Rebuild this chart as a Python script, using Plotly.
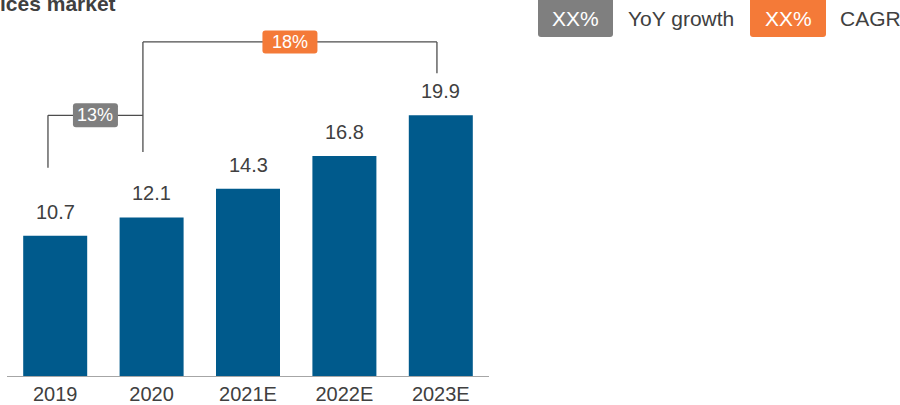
import plotly.graph_objects as go

# ---- data ----
categories = ["2019", "2020", "2021E", "2022E", "2023E"]
values = [10.7, 12.1, 14.3, 16.8, 19.9]
title_text = "ices market"
legend_labels = ["YoY growth", "CAGR"]
legend_box_text = "XX%"

# ---- style ----
BAR = "#005A8C"
GREY = "#7F7F7F"
ORANGE = "#F47A38"
TXT = "#404040"
LINE = "#4D4D4D"
FONT = "Arial, Liberation Sans, sans-serif"

W, H = 900, 405
L, R, T, B = 7, 411, 0, 29
PW = W - L - R
PH = H - T - B
Y_MAX = 28.7


def px_x(px):
    return (px - L) / PW


def px_y(py):
    return (H - B - py) / PH


def rrect(x0, y0, x1, y1, r, color):
    p = (f"M {px_x(x0 + r)},{px_y(y0)} L {px_x(x1 - r)},{px_y(y0)} "
         f"Q {px_x(x1)},{px_y(y0)} {px_x(x1)},{px_y(y0 + r)} "
         f"L {px_x(x1)},{px_y(y1 - r)} Q {px_x(x1)},{px_y(y1)} {px_x(x1 - r)},{px_y(y1)} "
         f"L {px_x(x0 + r)},{px_y(y1)} Q {px_x(x0)},{px_y(y1)} {px_x(x0)},{px_y(y1 - r)} "
         f"L {px_x(x0)},{px_y(y0 + r)} Q {px_x(x0)},{px_y(y0)} {px_x(x0 + r)},{px_y(y0)} Z")
    return dict(type="path", path=p, xref="paper", yref="paper",
                fillcolor=color, line=dict(width=0), layer="above")


def data_px_x(xv):
    return L + (xv + 0.5) * PW / len(categories)


def data_px_y(yv):
    return (H - B) - yv / Y_MAX * PH


fig = go.Figure()
fig.add_trace(go.Bar(x=categories, y=values, marker=dict(color=BAR, line=dict(width=0)),
                     hoverinfo="skip"))

annotations = []
shapes = []

# value labels
for i, v in enumerate(values):
    annotations.append(dict(x=i, y=v, xref="x", yref="y", text=f"{v:.1f}", showarrow=False,
                            yanchor="bottom", yshift=11, font=dict(size=20, color=TXT, family=FONT)))

# growth figures computed from data
yoy = values[1] / values[0] - 1
cagr = (values[4] / values[1]) ** (1 / 3) - 1

# brackets (data units)
yoy_left, yoy_right = 0 - 0.075, 1 - 0.09
yoy_level = 19.9
cagr_right = 4 - 0.04
cagr_level = 25.5

def seg(x0, y0, x1, y1):
    return dict(type="line", xref="x", yref="y", x0=x0, y0=y0, x1=x1, y1=y1,
                line=dict(color=LINE, width=1.3), layer="below")

shapes += [
    seg(yoy_left, values[0] + 5.2, yoy_left, yoy_level),
    seg(yoy_left, yoy_level, yoy_right, yoy_level),
    seg(yoy_right, values[1] + 5.0, yoy_right, cagr_level),
    seg(yoy_right, cagr_level, cagr_right, cagr_level),
    seg(cagr_right, cagr_level, cagr_right, values[4] + 3.2),
]

# label boxes on brackets
def bracket_box(xa, xb, level, w, h, color, text):
    cx = (data_px_x(xa) + data_px_x(xb)) / 2
    cy = data_px_y(level)
    shapes.append(rrect(cx - w / 2, cy - h / 2, cx + w / 2, cy + h / 2, 3, color))
    annotations.append(dict(x=px_x(cx), y=px_y(cy), xref="paper", yref="paper", text=text,
                            showarrow=False, xanchor="center", yanchor="middle",
                            font=dict(size=18, color="white", family=FONT)))

bracket_box(yoy_left, yoy_right, yoy_level, 45, 24, GREY, f"{yoy * 100:.0f}%")
bracket_box(yoy_right, cagr_right, cagr_level, 55, 23, ORANGE, f"{cagr * 100:.0f}%")

# title (cropped at the top-left in the reference)
annotations.append(dict(x=px_x(118), y=px_y(3), xref="paper", yref="paper", text=f"<b>{title_text}</b>",
                        showarrow=False, xanchor="right", yanchor="middle",
                        font=dict(size=21, color=TXT, family=FONT)))

# legend
for (bx0, bx1, color, tx, label) in [(538, 613, GREY, 626, legend_labels[0]),
                                     (750, 826, ORANGE, 838, legend_labels[1])]:
    shapes.append(rrect(bx0, -4, bx1, 37, 3, color))
    annotations.append(dict(x=px_x((bx0 + bx1) / 2), y=px_y(19), xref="paper", yref="paper",
                            text=legend_box_text, showarrow=False, xanchor="center", yanchor="middle",
                            font=dict(size=21, color="white", family=FONT)))
    annotations.append(dict(x=px_x(tx), y=px_y(19), xref="paper", yref="paper", text=label,
                            showarrow=False, xanchor="left", yanchor="middle",
                            font=dict(size=21, color=TXT, family=FONT)))

fig.update_layout(
    width=W, height=H,
    margin=dict(l=L, r=R, t=T, b=B, pad=0),
    paper_bgcolor="white", plot_bgcolor="white",
    bargap=0.336,
    showlegend=False,
    font=dict(family=FONT, color=TXT),
    xaxis=dict(type="category", range=[-0.5, 4.5], showgrid=False, zeroline=False,
               showline=True, linecolor="#A6A6A6", linewidth=1, ticks="",
               tickfont=dict(size=20, color=TXT, family=FONT), fixedrange=True),
    yaxis=dict(range=[0, Y_MAX], visible=False, showgrid=False, zeroline=False, fixedrange=True),
    shapes=shapes,
    annotations=annotations,
)

fig.write_html("out.html")
